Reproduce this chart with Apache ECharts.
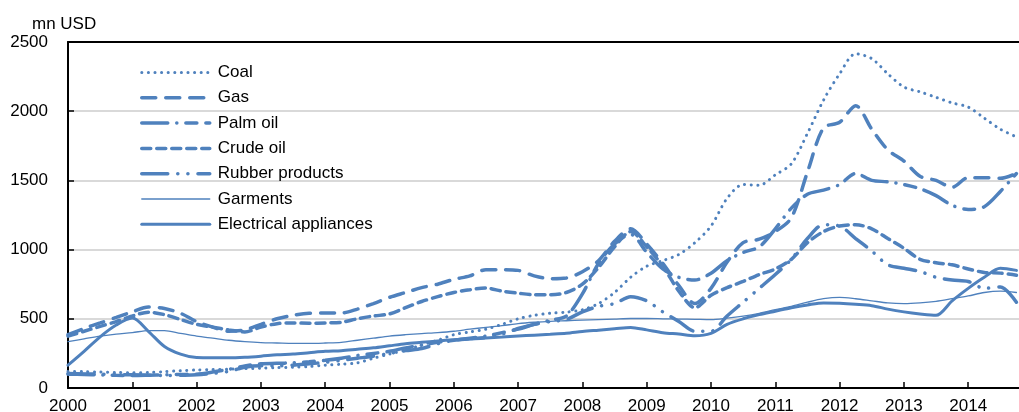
<!DOCTYPE html>
<html>
<head>
<meta charset="utf-8">
<script src="https://cdn.jsdelivr.net/npm/echarts@6/dist/echarts.min.js"></script>
<style>
html,body{margin:0;padding:0;background:#fff;}
#chart{width:1019px;height:412px;}
</style>
</head>
<body>
<div id="chart"></div>
<script>
// Quarterly observations, 2000Q1 .. 2014Q4 (values in mn USD)
var startYear = 2000;
var yearLabels = ['2000','2001','2002','2003','2004','2005','2006','2007','2008','2009','2010','2011','2012','2013','2014'];
var yTicks = [0, 500, 1000, 1500, 2000, 2500];

var coal = [
 120,118,115,112, 110,112,118,125, 130,133,136,140, 143,147,150,155,
 165,172,182,215, 245,275,310,345, 385,405,425,460, 500,525,540,548,
 565,610,690,800, 880,920,965,1050, 1170,1370,1470,1465, 1540,1620,1840,2080,
 2270,2415,2380,2270, 2175,2140,2100,2060, 2030,1950,1870,1815];
var gas = [
 385,430,470,510, 550,585,575,540, 480,440,410,420, 460,500,525,540,
 542,542,570,610, 655,690,725,750, 785,810,855,855, 850,810,790,795,
 840,920,1060,1150, 1040,900,740,610, 720,910,1050,1075, 1130,1230,1560,1880,
 1920,2040,1870,1720, 1640,1530,1500,1450, 1520,1520,1515,1550];
var palmOil = [
 100,98,95,92, 90,92,95,98, 100,115,135,160, 175,178,182,190,
 200,215,235,250, 265,290,310,330, 345,360,375,400, 425,460,490,520,
 680,900,1040,1110, 980,860,800,780, 830,920,980,1020, 1150,1300,1400,1430,
 1470,1550,1500,1490, 1470,1440,1390,1320, 1290,1310,1420,1550];
var crudeOil = [
 375,410,445,480, 520,548,530,495, 460,440,420,405, 440,465,470,468,
 470,475,500,520, 535,580,625,660, 690,710,722,700, 685,674,674,690,
 750,870,1020,1130, 1020,880,700,580, 670,725,770,820, 860,930,1050,1130,
 1170,1180,1150,1080, 1010,930,905,890, 860,835,830,815];
var rubber = [
 105,102,100,98, 95,92,90,92, 95,105,120,150, 160,160,165,175,
 185,200,215,230, 250,270,285,320, 345,355,365,390, 430,460,480,495,
 550,590,610,660, 630,550,480,410, 410,520,620,720, 820,930,1080,1180,
 1170,1080,990,890, 865,842,800,780, 770,720,730,620];
var garments = [
 335,355,375,390, 400,415,415,395, 375,360,345,335, 328,325,322,322,
 325,330,345,360, 375,385,393,400, 410,425,438,450, 465,475,482,486,
 490,494,498,502, 502,500,498,496, 494,505,520,540, 566,590,620,645,
 655,645,630,615, 610,615,626,645, 665,690,700,690];
var electrical = [
 165,265,370,455, 505,410,300,245, 220,218,218,222, 230,240,245,255,
 265,270,280,290, 305,320,330,340, 348,355,362,368, 375,382,388,395,
 408,418,428,438, 420,400,390,378, 395,460,500,530, 555,580,600,615,
 612,605,595,570, 550,535,525,630, 720,800,865,850];

function pairs(arr){
  return arr.map(function(v,i){ return [startYear + i/4, v]; });
}

var blue = '#4f81bd';
var font = 'Liberation Sans, Arial, sans-serif';

function mk(name, data, width, type){
  return {
    name: name, type: 'line', data: pairs(data), symbol: 'none', smooth: 0.3,
    lineStyle: {color: blue, width: width, type: type, cap: 'round'},
    itemStyle: {color: blue}
  };
}

var chart = echarts.init(document.getElementById('chart'), null, {renderer: 'canvas'});
chart.setOption({
  animation: false,
  backgroundColor: '#fff',
  title: {text: 'mn USD', left: 27, top: 11, textStyle: {fontSize: 17, fontWeight: 'normal', color: '#000', fontFamily: font}},
  grid: {left: 68, right: 0, top: 42, bottom: 24, outerBoundsMode: 'none', containLabel: false},
  legend: {
    orient: 'vertical', left: 140, top: 64, padding: 0,
    itemWidth: 68, itemHeight: 14, itemGap: 8.3,
    itemStyle: {opacity: 0},
    lineStyle: {width: 'inherit'},
    textStyle: {fontSize: 17, color: '#000', fontFamily: font, lineHeight: 17, padding: [0, 0, 0, 3]},
    data: ['Coal','Gas','Palm oil','Crude oil','Rubber products','Garments','Electrical appliances']
  },
  xAxis: [{
    type: 'value', min: 2000, max: 2014.79, interval: 1,
    axisLine: {lineStyle: {color: '#000', width: 2}},
    axisTick: {inside: true, length: 6, lineStyle: {color: '#000', width: 1.5}},
    splitLine: {show: false},
    axisLabel: {fontSize: 17, color: '#000', fontFamily: font, margin: 10,
      formatter: function(v){ var i = Math.round(v) - startYear; return yearLabels[i] || ''; },
      showMaxLabel: false}
  },{
    type: 'value', position: 'top', min: 2000, max: 2014.79,
    axisLine: {show: true, lineStyle: {color: '#000', width: 2}},
    axisTick: {show: false}, axisLabel: {show: false}, splitLine: {show: false}
  }],
  yAxis: {
    type: 'value', min: yTicks[0], max: yTicks[yTicks.length-1], interval: 500,
    axisLine: {show: true, lineStyle: {color: '#000', width: 2}},
    axisTick: {show: true, inside: true, length: 6, lineStyle: {color: '#000', width: 1.5}},
    splitLine: {lineStyle: {color: '#d9d9d9', width: 2}},
    axisLabel: {fontSize: 17, color: '#000', fontFamily: font, margin: 20,
      formatter: function(v){ return String(v); }}
  },
  series: [
    mk('Coal', coal, 3, [0.1, 6.5]),
    mk('Gas', gas, 3.5, [14, 10]),
    mk('Palm oil', palmOil, 3.5, [26, 9, 0.1, 9, 11, 9]),
    mk('Crude oil', crudeOil, 3.5, [9, 6]),
    mk('Rubber products', rubber, 3.5, [26, 10, 0.1, 10, 0.1, 10]),
    mk('Garments', garments, 1.3, 'solid'),
    mk('Electrical appliances', electrical, 3, 'solid')
  ]
});
</script>
</body>
</html>
